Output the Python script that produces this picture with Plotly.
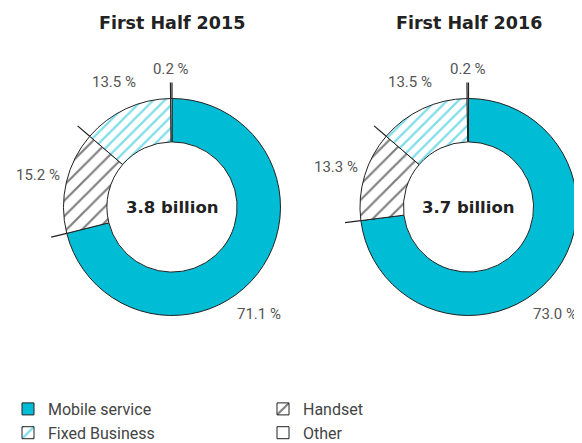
import math
import plotly.graph_objects as go

categories = ["Mobile service", "Handset", "Fixed Business", "Other"]
shares_2015 = [71.1, 15.2, 13.5, 0.2]
shares_2016 = [73.0, 13.3, 13.5, 0.2]
label_text_2015 = ["71.1 %", "15.2 %", "13.5 %", "0.2 %"]
label_text_2016 = ["73.0 %", "13.3 %", "13.5 %", "0.2 %"]
titles = ["First Half 2015", "First Half 2016"]
totals = ["3.8 billion", "3.7 billion"]

CYAN = "#00bcd4"
W, H = 582, 443
OFF = 8  # the page body adds an 8px margin round the figure
R = 108.5
LABEL_R = 138
MAIN_LABEL_ANGLE = 141  # big slice label sits at the lower right rim
centers = [(172 - OFF, 207 - OFF), (468.5 - OFF, 207 - OFF)]

colors = [CYAN, "white", "white", "white"]
pattern = dict(shape=["", "/", "/", ""],
               fgcolor=["black", "#000000", CYAN, "black"],
               bgcolor=["white", "white", "white", "white"],
               size=[8, 11, 8, 8], solidity=[0.1, 0.2, 0.28, 0.1],
               fillmode="overlay")

def px(x, y):
    return x / W, 1 - y / H

fig = go.Figure()
for i, (vals, txt) in enumerate([(shares_2015, label_text_2015), (shares_2016, label_text_2016)]):
    cx, cy = centers[i]
    fig.add_trace(go.Pie(
        labels=categories, values=vals, textinfo="none",
        sort=False, direction="clockwise", rotation=0,
        hole=0.6, showlegend=(i == 0),
        marker=dict(colors=colors, line=dict(color="#222222", width=1), pattern=pattern),
        domain=dict(x=[(cx - R) / W, (cx + R) / W], y=[(H - cy - R) / H, (H - cy + R) / H]),
        hoverinfo="label+percent",
    ))
    tx, ty = px(cx, 23 - OFF)
    fig.add_annotation(x=tx, y=ty, xref="paper", yref="paper", text="<b>" + titles[i] + "</b>",
                       xanchor="center", yanchor="middle", showarrow=False,
                       font=dict(family="DejaVu Sans", size=17.5, color="#222222"))
    tx, ty = px(cx, cy)
    fig.add_annotation(x=tx, y=ty, xref="paper", yref="paper", text="<b>" + totals[i] + "</b>",
                       xanchor="center", yanchor="middle", showarrow=False,
                       font=dict(family="DejaVu Sans", size=16.5, color="#222222"))
    total = sum(vals)
    cum = 0
    for j, v in enumerate(vals):
        mid = (cum + v / 2) / total * 360
        cum += v
        # percentage label
        ang = math.radians(MAIN_LABEL_ANGLE if v == max(vals) else mid)
        lx, ly = px(cx + LABEL_R * math.sin(ang), cy - LABEL_R * math.cos(ang))
        fig.add_annotation(x=lx, y=ly, xref="paper", yref="paper", text=txt[j],
                           xanchor="center", yanchor="middle", showarrow=False,
                           font=dict(size=15, color="#555555"))
        # tick extending the slice boundary outward
        th = 2 * math.pi * cum / total
        x0, y0 = px(cx + R * math.sin(th), cy - R * math.cos(th))
        x1, y1 = px(cx + (R + 16) * math.sin(th), cy - (R + 16) * math.cos(th))
        fig.add_shape(type="line", xref="paper", yref="paper", x0=x0, y0=y0, x1=x1, y1=y1,
                      line=dict(color="#222222", width=1.2))

fig.update_layout(
    width=W, height=H, margin=dict(l=0, r=0, t=0, b=0, autoexpand=False),
    paper_bgcolor="white", plot_bgcolor="white",
    font=dict(family="Roboto", color="#444444"),
    legend=dict(orientation="h", x=0, xanchor="left", y=1 - 384 / H, yanchor="top",
                entrywidth=210, entrywidthmode="pixels", traceorder="normal",
                font=dict(size=16, color="#444444")),
)
fig.write_html("out.html")
